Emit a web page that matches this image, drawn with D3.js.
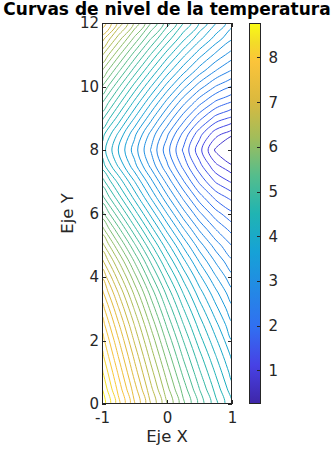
<!DOCTYPE html>
<html>
<head>
<meta charset="utf-8">
<script src="https://cdn.jsdelivr.net/npm/d3@7"></script>
<style>
  body { margin: 0; background: #fff; }
  text { font-family: "DejaVu Sans", sans-serif; fill: #262626; }
</style>
</head>
<body>
<div id="chart"></div>
<script>
// Grid: x columns and y rows
const xGrid = [-1, -0.75, -0.5, -0.25, 0, 0.25, 0.5, 0.75, 1];
const yGrid = [0, 0.5, 1, 1.5, 2, 2.5, 3, 3.5, 4, 4.5, 5, 5.5, 6,
               6.5, 7, 7.5, 8, 8.5, 9, 9.5, 10, 10.5, 11, 11.5, 12];

// temperature, one row per y value (bottom to top), columns x = -1 .. 1
const temperature = [
  [8.75, 8.08, 7.42, 6.80, 6.21, 5.65, 5.13, 4.66, 4.19],
  [8.60, 7.93, 7.28, 6.65, 6.06, 5.51, 4.99, 4.52, 4.06],
  [8.44, 7.77, 7.11, 6.49, 5.90, 5.34, 4.83, 4.37, 3.91],
  [8.27, 7.60, 6.95, 6.32, 5.73, 5.17, 4.67, 4.21, 3.76],
  [8.10, 7.43, 6.77, 6.15, 5.55, 5.00, 4.49, 4.04, 3.60],
  [7.91, 7.24, 6.59, 5.96, 5.36, 4.81, 4.31, 3.86, 3.43],
  [7.70, 7.03, 6.38, 5.75, 5.16, 4.61, 4.11, 3.66, 3.25],
  [7.46, 6.80, 6.15, 5.53, 4.94, 4.39, 3.89, 3.46, 3.06],
  [7.18, 6.52, 5.88, 5.26, 4.68, 4.14, 3.65, 3.22, 2.85],
  [6.85, 6.21, 5.58, 4.97, 4.39, 3.86, 3.38, 2.97, 2.63],
  [6.48, 5.85, 5.24, 4.64, 4.08, 3.56, 3.09, 2.70, 2.39],
  [6.08, 5.47, 4.87, 4.29, 3.74, 3.23, 2.77, 2.40, 2.12],
  [5.67, 5.08, 4.50, 3.94, 3.40, 2.89, 2.44, 2.08, 1.84],
  [5.27, 4.70, 4.14, 3.59, 3.06, 2.56, 2.10, 1.75, 1.53],
  [4.90, 4.35, 3.81, 3.27, 2.74, 2.23, 1.76, 1.38, 1.17],
  [4.50, 3.98, 3.47, 2.95, 2.44, 1.94, 1.47, 1.05, 0.84],
  [4.31, 3.80, 3.30, 2.79, 2.28, 1.77, 1.27, 0.76, 0.25],
  [4.48, 3.97, 3.45, 2.94, 2.44, 1.95, 1.47, 1.07, 0.87],
  [4.85, 4.32, 3.79, 3.27, 2.77, 2.29, 1.86, 1.52, 1.35],
  [5.22, 4.68, 4.15, 3.63, 3.13, 2.67, 2.27, 1.96, 1.78],
  [5.60, 5.05, 4.52, 4.01, 3.52, 3.07, 2.69, 2.39, 2.20],
  [6.00, 5.45, 4.91, 4.40, 3.91, 3.48, 3.10, 2.80, 2.58],
  [6.43, 5.86, 5.31, 4.79, 4.30, 3.86, 3.47, 3.15, 2.90],
  [6.88, 6.30, 5.74, 5.20, 4.71, 4.25, 3.85, 3.51, 3.22],
  [7.35, 6.75, 6.16, 5.61, 5.09, 4.61, 4.18, 3.81, 3.47]
];

// contour levels
const levels = [0.8, 1.0, 1.2, 1.4, 1.6, 1.8, 2.0, 2.2, 2.4, 2.6, 2.8, 3.0,
                3.2, 3.4, 3.6, 3.8, 4.0, 4.2, 4.4, 4.6, 4.8, 5.0, 5.2, 5.4,
                5.6, 5.8, 6.0, 6.2, 6.4, 6.6, 6.8, 7.0, 7.2, 7.4, 7.6, 7.8,
                8.0, 8.2, 8.4, 8.6];

const colorRange = [0.25, 8.77];
const xTicks = [-1, 0, 1];
const yTicks = [0, 2, 4, 6, 8, 10, 12];
const colorTicks = [1, 2, 3, 4, 5, 6, 7, 8];

// parula-like colormap
const parulaStops = [0, 0.1, 0.2, 0.3, 0.4, 0.5, 0.6, 0.7, 0.8, 0.9, 0.95, 1];
const parulaColors = ["#3e26a8", "#4741e5", "#316ff1", "#2389e5", "#16a2d6", "#20b4b2",
                      "#55bd8c", "#a2bd5a", "#dcb93e", "#fbc43a", "#f3dc28", "#f9fb15"];

const width = 334, height = 450;
const plot = { left: 102, right: 232, top: 23, bottom: 404 };
const axisColor = "#262626";

const x = d3.scaleLinear().domain([-1, 1]).range([plot.left, plot.right]);
const y = d3.scaleLinear().domain([0, 12]).range([plot.bottom, plot.top]);

const color = d3.scaleLinear()
  .domain(parulaStops.map(t => colorRange[0] + t * (colorRange[1] - colorRange[0])))
  .range(parulaColors)
  .clamp(true);

const svg = d3.select("#chart").append("svg")
  .attr("width", width)
  .attr("height", height);

svg.append("rect").attr("width", width).attr("height", height).attr("fill", "#fff");

const defs = svg.append("defs");
defs.append("clipPath").attr("id", "plot-clip")
  .append("rect")
  .attr("x", plot.left).attr("y", plot.top)
  .attr("width", plot.right - plot.left).attr("height", plot.bottom - plot.top);

// contour lines
const nx = xGrid.length, ny = yGrid.length;
const stepX = xGrid[1] - xGrid[0], stepY = yGrid[1] - yGrid[0];
const contours = d3.contours().size([nx, ny]).thresholds(levels)(temperature.flat());

// d3.contours puts grid value i at coordinate i + 0.5
const gx = c => x(xGrid[0] + (c - 0.5) * stepX);
const gy = c => y(yGrid[0] + (c - 0.5) * stepY);

const ringLine = d3.line()
  .x(p => gx(p[0]))
  .y(p => gy(p[1]))
  .curve(d3.curveCatmullRomClosed.alpha(0.5));

function ringPath(ring) {
  let pts = ring;
  const first = pts[0], last = pts[pts.length - 1];
  if (first[0] === last[0] && first[1] === last[1]) pts = pts.slice(0, -1);
  return ringLine(pts);
}

svg.append("g")
  .attr("clip-path", "url(#plot-clip)")
  .selectAll("path")
  .data(contours)
  .join("path")
  .attr("d", d => d.coordinates.map(poly => poly.map(ringPath).join("")).join(""))
  .attr("fill", "none")
  .attr("stroke", d => color(d.value))
  .attr("stroke-width", 1);

// axes (ticks point inward, box around)
function styleAxis(g) {
  g.select(".domain").remove();
  g.selectAll(".tick line").attr("stroke", axisColor).attr("shape-rendering", "crispEdges");
  g.selectAll(".tick text")
    .attr("font-family", "DejaVu Sans")
    .style("font-size", "15px")
    .attr("fill", axisColor);
}

svg.append("g")
  .attr("transform", `translate(0,${plot.bottom})`)
  .call(d3.axisBottom(x).tickValues(xTicks).tickSizeInner(-4).tickSizeOuter(0).tickPadding(8).tickFormat(d => String(d)))
  .call(styleAxis);
svg.append("g")
  .attr("transform", `translate(0,${plot.top})`)
  .call(d3.axisTop(x).tickValues(xTicks).tickSizeInner(-4).tickSizeOuter(0).tickFormat(""))
  .call(styleAxis);
svg.append("g")
  .attr("transform", `translate(${plot.left},0)`)
  .call(d3.axisLeft(y).tickValues(yTicks).tickSizeInner(-4).tickSizeOuter(0).tickPadding(3).tickFormat(d => String(d)))
  .call(styleAxis);
svg.append("g")
  .attr("transform", `translate(${plot.right},0)`)
  .call(d3.axisRight(y).tickValues(yTicks).tickSizeInner(-4).tickSizeOuter(0).tickFormat(""))
  .call(styleAxis);

svg.append("rect")
  .attr("x", plot.left + 0.5).attr("y", plot.top + 0.5)
  .attr("width", plot.right - plot.left - 1).attr("height", plot.bottom - plot.top - 1)
  .attr("fill", "none").attr("stroke", axisColor).attr("stroke-width", 1);

// axis labels
svg.append("text")
  .attr("x", (plot.left + plot.right) / 2).attr("y", 442)
  .attr("text-anchor", "middle")
  .style("font-size", "16.5px")
  .text("Eje X");

svg.append("text")
  .attr("transform", `translate(73,${(plot.top + plot.bottom) / 2}) rotate(-90)`)
  .attr("text-anchor", "middle")
  .style("font-size", "16.5px")
  .text("Eje Y");

// title
svg.append("text")
  .attr("x", (plot.left + plot.right) / 2).attr("y", 15)
  .attr("text-anchor", "middle")
  .style("font-size", "17px")
  .style("font-weight", "bold")
  .style("fill", "#000")
  .text("Curvas de nivel de la temperatura");

// colorbar
const cb = { left: 249, right: 261 };
const cbY = d3.scaleLinear().domain(colorRange).range([plot.bottom, plot.top]);

const grad = defs.append("linearGradient")
  .attr("id", "parula")
  .attr("x1", 0).attr("y1", 1).attr("x2", 0).attr("y2", 0);
grad.selectAll("stop")
  .data(parulaStops)
  .join("stop")
  .attr("offset", d => d)
  .attr("stop-color", (d, i) => parulaColors[i]);

svg.append("rect")
  .attr("x", cb.left + 0.5).attr("y", plot.top + 0.5)
  .attr("width", cb.right - cb.left - 1).attr("height", plot.bottom - plot.top - 1)
  .attr("fill", "url(#parula)")
  .attr("stroke", axisColor)
  .attr("stroke-width", 1);

const cbAxis = svg.append("g");
cbAxis.selectAll("line")
  .data(colorTicks)
  .join("line")
  .attr("x1", cb.right - 4).attr("x2", cb.right)
  .attr("y1", d => Math.round(cbY(d)) + 0.5).attr("y2", d => Math.round(cbY(d)) + 0.5)
  .attr("stroke", axisColor);
cbAxis.selectAll("text")
  .data(colorTicks)
  .join("text")
  .attr("x", 268.5)
  .attr("y", d => cbY(d))
  .attr("dy", "0.36em")
  .style("font-size", "15px")
  .text(d => d);
</script>
</body>
</html>
